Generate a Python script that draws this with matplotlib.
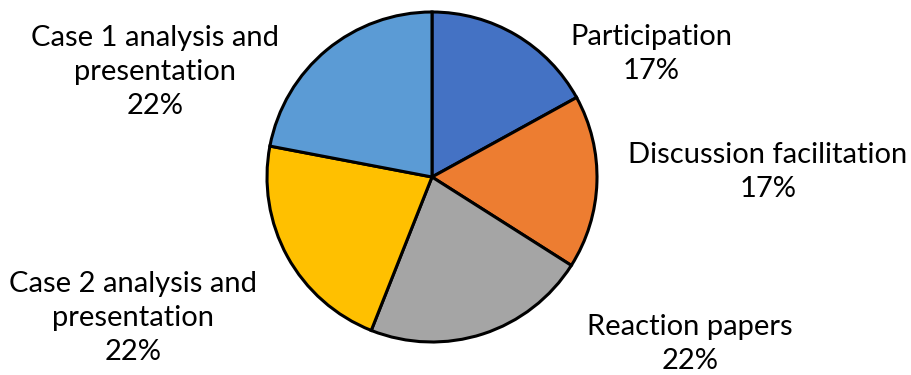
import matplotlib
matplotlib.use("Agg")
import matplotlib.pyplot as plt

categories = ["Participation", "Discussion facilitation", "Reaction papers",
              "Case 2 analysis and\npresentation", "Case 1 analysis and\npresentation"]
values = [17, 17, 22, 22, 22]
colors = ["#4472C4", "#ED7D31", "#A5A5A5", "#FFC000", "#5B9BD5"]
label_pos = [(651, 321), (768, 203), (690, 31), (133, 57), (155, 303)]

plt.rcParams['font.family'] = ['Lato', 'DejaVu Sans']
fig = plt.figure(figsize=(9.12, 3.75), dpi=100)
ax = fig.add_axes([0, 0, 1, 1])
ax.pie(values, colors=colors, startangle=90, counterclock=False,
       radius=165, center=(432, 198),
       wedgeprops=dict(edgecolor="black", linewidth=2.2))
ax.set_xlim(0, 912)
ax.set_ylim(0, 375)
ax.set_aspect('equal')
ax.axis('off')
for cat, v, (x, y) in zip(categories, values, label_pos):
    ax.text(x, y, f"{cat}\n{v}%", ha="center", va="center", fontsize=21,
            linespacing=1.38, color="black")
fig.savefig("out.png", dpi=100)
